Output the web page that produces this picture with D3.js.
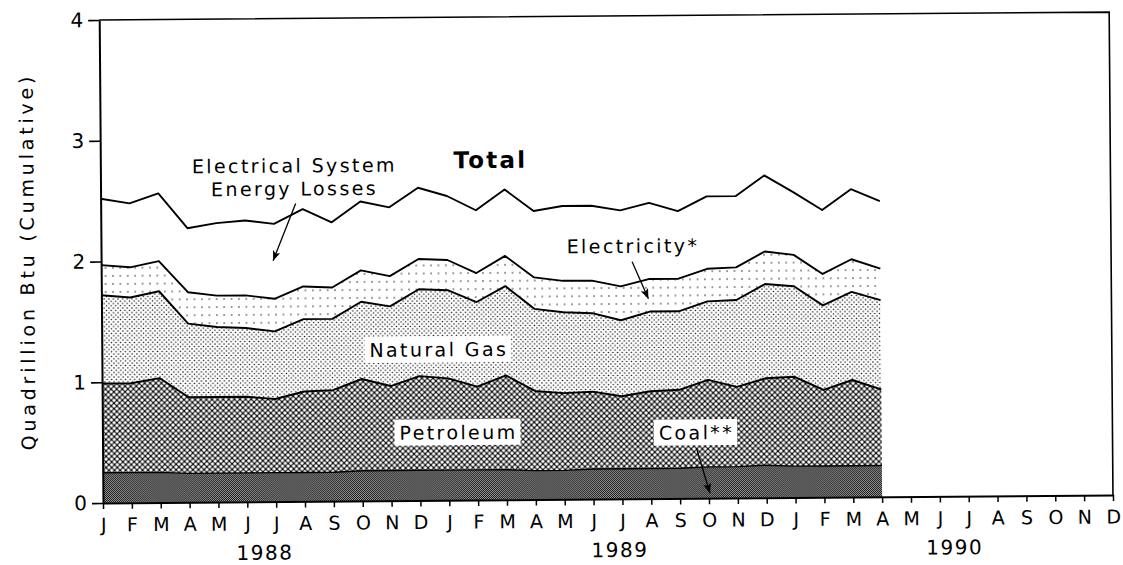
<!DOCTYPE html>
<html>
<head>
<meta charset="utf-8">
<script src="https://cdn.jsdelivr.net/npm/d3@7"></script>
<style>
  body { margin: 0; background: #fff; }
  svg { display: block; font-family: "DejaVu Sans", sans-serif; }
</style>
</head>
<body>
<svg id="chart"></svg>
<script>
// month letters along the axis, Jan 1988 .. Dec 1990
const monthLetters = ["J","F","M","A","M","J","J","A","S","O","N","D"]
const months = [...monthLetters, ...monthLetters, ...monthLetters]
const years = ["1988", "1989", "1990"]
const yTicks = [0, 1, 2, 3, 4]

// quadrillion Btu per month, Jan 1988 .. Apr 1990
const coal = [0.25,0.25,0.25,0.24,0.24,0.24,0.24,0.24,0.24,0.25,0.25,0.25,
              0.25,0.25,0.25,0.24,0.24,0.25,0.25,0.25,0.25,0.26,0.26,0.27,
              0.26,0.26,0.26,0.26]
const petroleum = [0.74,0.74,0.78,0.63,0.63,0.63,0.61,0.67,0.68,0.76,0.70,0.78,
                   0.76,0.69,0.78,0.66,0.64,0.64,0.60,0.64,0.65,0.72,0.66,0.72,
                   0.74,0.63,0.71,0.63]
const naturalGas = [0.73,0.71,0.72,0.61,0.58,0.57,0.56,0.60,0.59,0.64,0.66,0.72,
                    0.73,0.70,0.74,0.68,0.67,0.65,0.63,0.66,0.65,0.65,0.72,0.78,
                    0.75,0.70,0.73,0.74]
const electricity = [0.25,0.25,0.25,0.26,0.26,0.27,0.27,0.27,0.26,0.26,0.25,0.25,
                     0.25,0.24,0.25,0.26,0.26,0.27,0.28,0.27,0.27,0.27,0.27,0.27,
                     0.26,0.26,0.27,0.26]
const losses = [0.55,0.53,0.56,0.53,0.60,0.62,0.62,0.64,0.54,0.57,0.57,0.59,
                0.53,0.52,0.55,0.55,0.62,0.62,0.63,0.63,0.56,0.60,0.59,0.63,
                0.52,0.53,0.58,0.56]

const width = 1123
const height = 565

const svg = d3.select("#chart")
    .attr("width", width)
    .attr("height", height)

// fill patterns for the layers
const defs = svg.append("defs")

const pCoal = defs.append("pattern").attr("id", "pCoal")
    .attr("patternUnits", "userSpaceOnUse").attr("width", 2).attr("height", 2)
pCoal.append("rect").attr("width", 2).attr("height", 2).attr("fill", "#a0a0a0")
pCoal.append("rect").attr("width", 1).attr("height", 1).attr("fill", "#111")
pCoal.append("rect").attr("x", 1).attr("y", 1).attr("width", 1).attr("height", 1).attr("fill", "#111")

const pPet = defs.append("pattern").attr("id", "pPet")
    .attr("patternUnits", "userSpaceOnUse").attr("width", 5.6).attr("height", 5.6)
pPet.append("rect").attr("width", 5.6).attr("height", 5.6).attr("fill", "#111")
;[[0,0],[5.6,0],[0,5.6],[5.6,5.6],[2.8,2.8]].forEach(([cx, cy]) => {
    pPet.append("circle").attr("cx", cx).attr("cy", cy).attr("r", 1.65).attr("fill", "#fff")
})

const pGas = defs.append("pattern").attr("id", "pGas")
    .attr("patternUnits", "userSpaceOnUse").attr("width", 4.6).attr("height", 4.6)
pGas.append("rect").attr("width", 4.6).attr("height", 4.6).attr("fill", "#fff")
;[[0,0],[4.6,0],[0,4.6],[4.6,4.6],[2.3,2.3]].forEach(([cx, cy]) => {
    pGas.append("circle").attr("cx", cx).attr("cy", cy).attr("r", 0.75).attr("fill", "#000")
})

const pElec = defs.append("pattern").attr("id", "pElec")
    .attr("patternUnits", "userSpaceOnUse").attr("width", 7.4).attr("height", 8)
pElec.append("rect").attr("width", 7.4).attr("height", 8).attr("fill", "#fff")
pElec.append("circle").attr("cx", 3.7).attr("cy", 4).attr("r", 0.7).attr("fill", "#000")

defs.append("marker").attr("id", "arrow")
    .attr("viewBox", "0 0 10 8").attr("refX", 10).attr("refY", 4)
    .attr("markerWidth", 10).attr("markerHeight", 8)
    .attr("markerUnits", "userSpaceOnUse").attr("orient", "auto")
    .append("path").attr("d", "M0,0 L10,4 L0,8 L2.5,4 Z").attr("fill", "#000")

// the scanned original sits a little askew
const g = svg.append("g").attr("transform", "rotate(-0.45,103,503)")

const x = d3.scaleLinear().domain([0, 35]).range([103, 1113])
const y = d3.scaleLinear().domain([0, 4]).range([503, 20])

const rows = coal.map((c, i) => ({
    i: i,
    coal: c,
    petroleum: petroleum[i],
    gas: naturalGas[i],
    electricity: electricity[i],
    losses: losses[i]
}))

const keys = ["coal", "petroleum", "gas", "electricity", "losses"]
const fills = { coal: "url(#pCoal)", petroleum: "url(#pPet)", gas: "url(#pGas)", electricity: "url(#pElec)", losses: "none" }
const series = d3.stack().keys(keys)(rows)

const area = d3.area()
    .x(d => x(d.data.i))
    .y0(d => y(d[0]))
    .y1(d => y(d[1]))

const line = d3.line()
    .x(d => x(d.data.i))
    .y(d => y(d[1]))

g.append("g").selectAll("path")
    .data(series)
    .join("path")
    .attr("d", area)
    .attr("fill", d => fills[d.key])

g.append("g").selectAll("path")
    .data(series)
    .join("path")
    .attr("d", line)
    .attr("fill", "none")
    .attr("stroke", "#000")
    .attr("stroke-width", d => d.key === "coal" ? 1.4 : 1.9)
    .attr("stroke-linejoin", "round")

// frame
g.append("path")
    .attr("d", `M${x(0)},${y(4)} H${x(35)} V${y(0)}`)
    .attr("fill", "none")
    .attr("stroke", "#000")
    .attr("stroke-width", 1.6)

// axes
const yAxis = g.append("g")
    .attr("transform", `translate(${x(0)},0)`)
    .call(d3.axisLeft(y).tickValues(yTicks).tickFormat(d3.format("d")).tickSize(11).tickSizeOuter(0).tickPadding(5))
yAxis.select(".domain").attr("stroke-width", 2)
yAxis.selectAll(".tick line").attr("stroke-width", 1.6)
yAxis.selectAll("text").attr("font-size", 20).attr("fill", "#000").attr("font-family", "DejaVu Sans")

const xAxis = g.append("g")
    .attr("transform", `translate(0,${y(0)})`)
    .call(d3.axisBottom(x).tickValues(d3.range(months.length)).tickFormat(i => months[i]).tickSize(6).tickSizeOuter(0).tickPadding(9))
xAxis.select(".domain").attr("stroke-width", 2)
xAxis.selectAll(".tick line").attr("stroke-width", 1.5)
xAxis.selectAll("text").attr("font-size", 19).attr("fill", "#000").attr("font-family", "DejaVu Sans")

g.append("g").selectAll("text")
    .data(years)
    .join("text")
    .attr("x", (d, i) => x([5.6, 17.9, 29.5][i]))
    .attr("y", 561)
    .attr("text-anchor", "middle")
    .attr("font-size", 20)
    .attr("letter-spacing", 1.5)
    .text(d => d)

g.append("text")
    .attr("transform", "translate(36,261) rotate(-90)")
    .attr("text-anchor", "middle")
    .attr("font-size", 19)
    .attr("letter-spacing", 3.8)
    .text("Quadrillion Btu (Cumulative)")

// annotations
const note = (txt, cx, cy, boxed, opts = {}) => {
    const t = g.append("text")
        .attr("x", cx).attr("y", cy)
        .attr("text-anchor", "middle")
        .attr("font-size", opts.size || 19)
        .attr("font-weight", opts.weight || "normal")
        .attr("letter-spacing", opts.spacing == null ? 2.4 : opts.spacing)
        .text(txt)
    if (boxed) {
        const b = t.node().getBBox()
        g.insert("rect", () => t.node())
            .attr("x", b.x - 5).attr("y", b.y - 2)
            .attr("width", b.width + 8).attr("height", b.height + 4)
            .attr("fill", "#fff")
    }
}

const arrow = (x1, y1, x2, y2) => {
    g.append("line")
        .attr("x1", x1).attr("y1", y1).attr("x2", x2).attr("y2", y2)
        .attr("stroke", "#000").attr("stroke-width", 1.3)
        .attr("marker-end", "url(#arrow)")
}

note("Electrical System", 297, 174, false)
note("Energy Losses", 297, 197, false)
arrow(298, 205, 275, 262)

note("Total", 493, 171, false, { size: 23, weight: "bold", spacing: 2.2 })

note("Electricity*", 635, 257, false)
arrow(634, 266, 650, 303)

note("Natural Gas", 440, 359, true)
note("Petroleum", 459, 442, true)
note("Coal**", 697, 444, true)
arrow(697, 453, 710, 498)
</script>
</body>
</html>
